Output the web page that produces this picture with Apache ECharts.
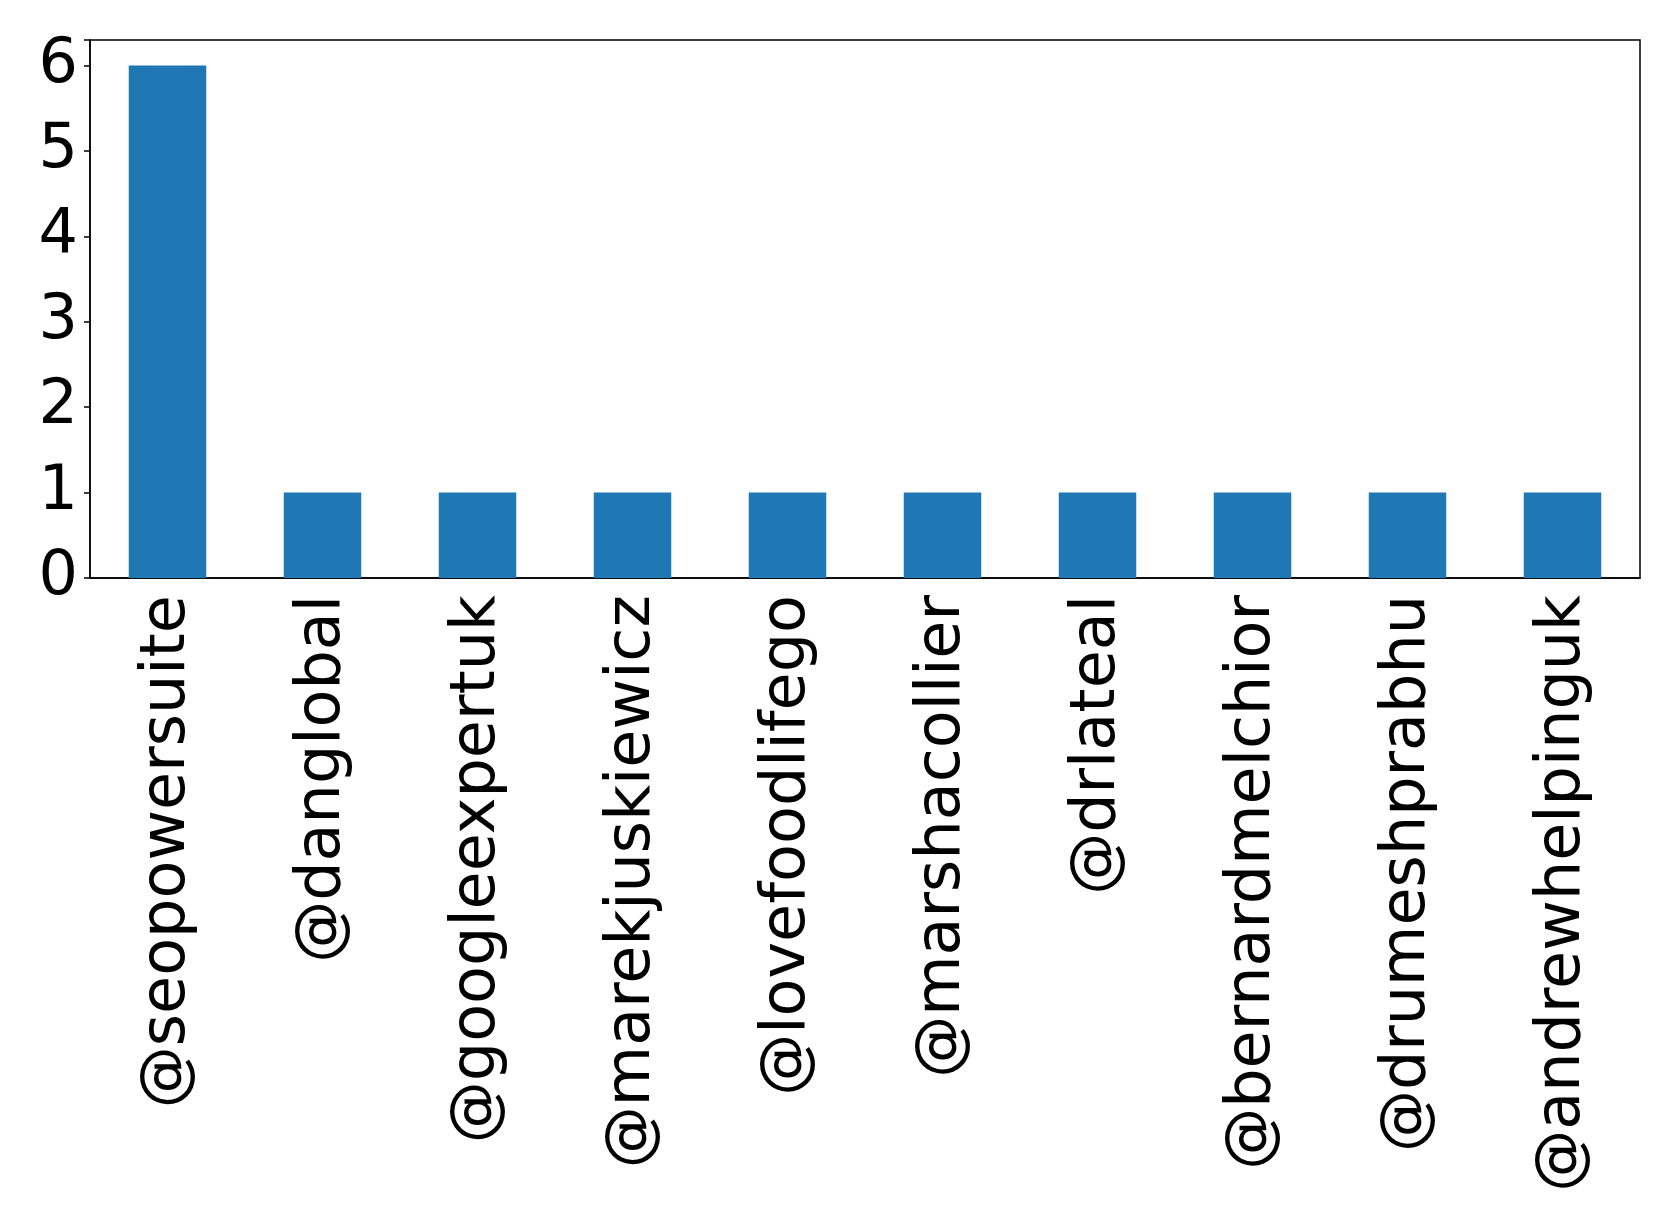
<!DOCTYPE html>
<html>
<head>
<meta charset="utf-8">
<script src="https://cdn.jsdelivr.net/npm/echarts@6/dist/echarts.min.js"></script>
<style>
  html, body { margin: 0; padding: 0; background: #fff; }
  #chart { width: 1679px; height: 1229px; }
</style>
</head>
<body>
<div id="chart"></div>
<script>
const categories = [
  '@seopowersuite', '@danglobal', '@googleexpertuk', '@marekjuskiewicz',
  '@lovefoodlifego', '@marshacollier', '@drlateal', '@bernardmelchior',
  '@drumeshprabhu', '@andrewhelpinguk'
]
const counts = [6, 1, 1, 1, 1, 1, 1, 1, 1, 1]
const yTicks = [0, 1, 2, 3, 4, 5, 6]

const chart = echarts.init(document.getElementById('chart'))
const font = 'DejaVu Sans'

chart.setOption({
  animation: false,
  grid: {
    left: 90,
    right: 39,
    top: 40,
    bottom: 651,
    show: true,
    borderColor: '#000',
    borderWidth: 1.5
  },
  xAxis: {
    type: 'category',
    data: categories,
    boundaryGap: true,
    axisLine: { lineStyle: { color: '#000', width: 1.5 } },
    axisTick: { alignWithLabel: true, length: 6, lineStyle: { color: '#000', width: 1.5 } },
    axisLabel: {
      rotate: 90,
      margin: 17,
      color: '#000',
      fontFamily: font,
      fontSize: 62,
      interval: 0
    },
    splitLine: { show: false }
  },
  yAxis: {
    type: 'value',
    min: 0,
    max: 6.3,
    interval: 1,
    axisLine: { show: true, lineStyle: { color: '#000', width: 1.5 } },
    axisTick: { show: true, length: 6, lineStyle: { color: '#000', width: 1.5 } },
    axisLabel: {
      margin: 12,
      color: '#000',
      fontFamily: font,
      fontSize: 62,
      formatter: v => (yTicks.includes(v) ? String(v) : '')
    },
    splitLine: { show: false }
  },
  series: [{
    type: 'bar',
    data: counts,
    barWidth: '50%',
    itemStyle: { color: '#1f77b4' }
  }]
})
</script>
</body>
</html>
